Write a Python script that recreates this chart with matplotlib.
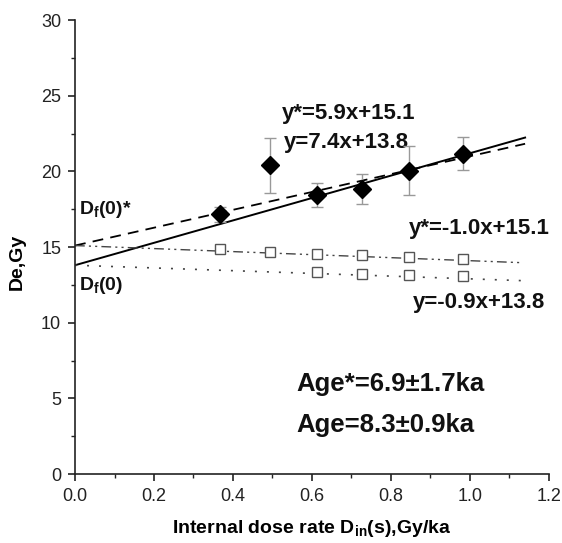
import numpy as np
import matplotlib
matplotlib.use("Agg")
import matplotlib.pyplot as plt
from matplotlib.ticker import MultipleLocator

plt.rcParams['font.family'] = ['Liberation Sans', 'DejaVu Sans']
plt.rcParams['mathtext.fontset'] = 'custom'
plt.rcParams['mathtext.rm'] = 'Liberation Sans:bold'
plt.rcParams['mathtext.it'] = 'Liberation Sans:bold'
plt.rcParams['mathtext.bf'] = 'Liberation Sans:bold'

# internal dose rate [Gy/ka]
x_all = [0.366, 0.494, 0.612, 0.726, 0.846, 0.982]
# De values (filled diamonds) and errors
de = [17.16, 20.4, 18.46, 18.85, 20.04, 21.17]
de_err = [0.5, 1.83, 0.8, 1.0, 1.63, 1.1]
# corrected De (open squares, y* series)
de_star = [14.87, 14.67, 14.56, 14.47, 14.34, 14.21]
de_star_err = [0.05, 0.05, 0.05, 0.05, 0.05, 0.05]
# corrected De (open squares, y series)
x_sub = [0.612, 0.726, 0.846, 0.982]
de_sub = [13.33, 13.24, 13.13, 13.06]
de_sub_err = [0.15, 0.15, 0.15, 0.15]

# fitted lines: slope, intercept
fit_star = (5.9, 15.1)
fit = (7.4, 13.8)
fit_star2 = (-1.0, 15.1)
fit2 = (-0.9, 13.8)

fig = plt.figure(figsize=(5.62, 5.43), dpi=100)
ax = fig.add_axes([0.1335, 0.127, 0.843, 0.836])

xl = np.array([0.0, 1.14])
ax.plot(xl, fit[0] * xl + fit[1], color='black', lw=1.4, zorder=2)
ax.plot(xl, fit_star[0] * xl + fit_star[1], color='black', lw=1.3,
        linestyle=(0, (6, 4)), zorder=2)
xl2 = np.array([0.0, 1.13])
ax.plot(xl2, fit_star2[0] * xl2 + fit_star2[1], color='#444444', lw=1.0,
        linestyle=(0, (7, 3, 1.5, 3, 1.5, 3)), zorder=2)
ax.plot(xl, fit2[0] * xl + fit2[1], color='#444444', lw=1.2,
        linestyle=(0, (1.2, 6)), zorder=2)

ax.errorbar(x_all, de, yerr=de_err, fmt='D', color='black', ms=9,
            ecolor='#999999', elinewidth=1.0, capsize=4, capthick=1.0, zorder=4)
ax.errorbar(x_all, de_star, yerr=de_star_err, fmt='s', mfc='white', mec='#555555',
            ms=7, mew=1.0, ecolor='#555555', elinewidth=0.8, capsize=0, zorder=4)
ax.errorbar(x_sub, de_sub, yerr=de_sub_err, fmt='s', mfc='white', mec='#555555',
            ms=7, mew=1.0, ecolor='#555555', elinewidth=0.8, capsize=0, zorder=4)

tb = dict(fontweight='bold', ha='left', va='baseline', color='#111111')
ax.text(0.525, 23.45, 'y*=5.9x+15.1', fontsize=16, **tb)
ax.text(0.53, 21.55, 'y=7.4x+13.8', fontsize=16, **tb)
ax.text(0.845, 15.84, 'y*=-1.0x+15.1', fontsize=16, **tb)
ax.text(0.856, 11.0, 'y=-0.9x+13.8', fontsize=16, **tb)
ax.text(0.01, 17.18, r'D$_\mathrm{f}$(0)*', fontsize=14, **tb)
ax.text(0.01, 12.14, r'D$_\mathrm{f}$(0)', fontsize=14, **tb)
ax.text(0.56, 5.46, 'Age*=6.9\u00b11.7ka', fontsize=18.5, **tb)
ax.text(0.56, 2.77, 'Age=8.3\u00b10.9ka', fontsize=18.5, **tb)

ax.set_xlim(0, 1.2)
ax.set_ylim(0, 30)
ax.xaxis.set_major_locator(MultipleLocator(0.2))
ax.xaxis.set_minor_locator(MultipleLocator(0.1))
ax.yaxis.set_major_locator(MultipleLocator(5))
ax.yaxis.set_minor_locator(MultipleLocator(2.5))
ax.set_xticks(np.arange(0, 1.21, 0.2))
ax.set_xticklabels(['0.0', '0.2', '0.4', '0.6', '0.8', '1.0', '1.2'])

for s in ['top', 'right']:
    ax.spines[s].set_visible(False)
for s in ['left', 'bottom']:
    ax.spines[s].set_linewidth(1.2)
    ax.spines[s].set_color('#222222')
    ax.spines[s].set_clip_on(False)
ax.tick_params(which='major', direction='out', length=5, width=1.2,
               labelsize=13, colors='#222222', pad=5)
ax.tick_params(which='minor', direction='out', length=3, width=1.0, colors='#222222')

ax.set_xlabel(r'Internal dose rate D$_\mathrm{in}$(s),Gy/ka', fontsize=14,
              fontweight='bold')
ax.xaxis.set_label_coords(0.5, -0.097)
ax.set_ylabel('De,Gy', fontsize=14, fontweight='bold')
ax.yaxis.set_label_coords(-0.105, 0.467)

fig.savefig('out.png', dpi=100)
